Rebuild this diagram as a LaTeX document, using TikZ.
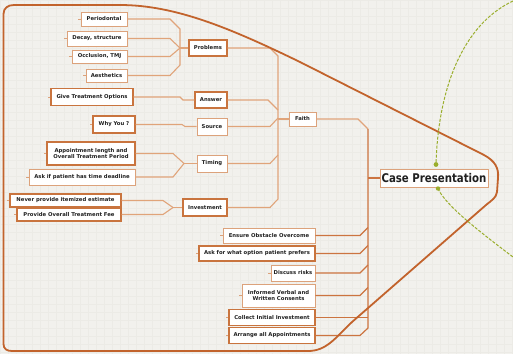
\documentclass[tikz,border=0pt]{standalone}
\usepackage{fontspec}
\setmainfont{DejaVu Sans}
\newfontfamily\titlefont[FakeStretch=0.85]{DejaVu Sans}

\definecolor{paper}{HTML}{F2F1ED}
\definecolor{gridline}{HTML}{ECEBE6}
\definecolor{boxlite}{HTML}{DCA27B}
\definecolor{boxdark}{HTML}{C9743E}
\definecolor{linklite}{HTML}{E0A47A}
\definecolor{linkdark}{HTML}{CC7440}
\definecolor{hull}{HTML}{C2632C}
\definecolor{olive}{HTML}{9AAE2C}
\definecolor{ink}{HTML}{202020}

\tikzset{
  leaf/.style={draw=boxlite, line width=0.9pt, fill=white, text=ink,
    font=\fontsize{5.3}{6.1}\selectfont\bfseries, inner sep=0pt, align=center},
  leafdark/.style={leaf, draw=boxdark, line width=1.2pt},
  central/.style={draw=boxlite, line width=0.9pt, fill=white!92!paper, text=ink,
    font=\titlefont\bfseries\fontsize{12}{14}\selectfont, inner sep=0pt},
  conn/.style={draw=linklite, line width=1.1pt},
  trunk/.style={draw=linkdark, line width=1.2pt},
  stub/.style={draw=boxlite, line width=0.8pt},
  hullline/.style={draw=hull, line width=1.8pt, line join=round},
  olivelink/.style={draw=olive, line width=1pt, dashed, dash pattern=on 3pt off 1.5pt},
}

\begin{document}
\begin{tikzpicture}[x=1pt,y=-1pt]
% paper and its faint grid
\fill[paper] (0,0) rectangle (513,354);
\useasboundingbox (0,0) rectangle (513,354);
\foreach \g in {0,8,...,512} \draw[gridline, line width=0.3pt] (\g,0) -- (\g,354);
\foreach \g in {0,8,...,352} \draw[gridline, line width=0.3pt] (0,\g) -- (513,\g);

% ---------- topics ----------
\node[leaf, minimum width=46, minimum height=14] (peri) at (104,19) {Periodontal};
\node[leaf, minimum width=60, minimum height=15] (decay) at (97,38.5) {Decay, structure};
\node[leaf, minimum width=55, minimum height=13] (occl) at (99.5,56.5) {Occlusion, TMJ};
\node[leaf, minimum width=41, minimum height=13] (aesth) at (106.5,75.5) {Aesthetics};
\node[leafdark, minimum width=38, minimum height=16] (probs) at (208,48) {Problems};

\node[leafdark, minimum width=82, minimum height=17] (give) at (92,97) {Give Treatment Options};
\node[leafdark, minimum width=32, minimum height=16] (answer) at (211,100) {Answer};

\node[leafdark, minimum width=42, minimum height=17] (why) at (114,124.5) {Why You ?};
\node[leaf, minimum width=30, minimum height=17] (source) at (212,126.5) {Source};

\node[leafdark, minimum width=88, minimum height=23] (appt) at (91,153.5) {Appointment length and\\Overall Treatment Period};
\node[leaf, minimum width=106, minimum height=16] (askdead) at (82,177) {Ask if patient has time deadline};
\node[leaf, minimum width=30, minimum height=17] (timing) at (212,163.5) {Timing};

\node[leafdark, minimum width=111, minimum height=13] (never) at (65.5,200.5) {Never provide itemized estimate};
\node[leafdark, minimum width=104, minimum height=13] (provide) at (69,214.5) {Provide Overall Treatment Fee};
\node[leafdark, minimum width=44, minimum height=17] (invest) at (205,207.5) {Investment};

\node[leaf, line width=1pt, minimum width=27, minimum height=14] (faith) at (302.5,119) {Faith};

\node[leaf, minimum width=92, minimum height=15] (ensure) at (269,235.5) {Ensure Obstacle Overcome};
\node[leafdark, minimum width=116, minimum height=15] (askpref) at (257,253.5) {Ask for what option patient prefers};
\node[leaf, minimum width=44, minimum height=16] (discuss) at (293,273) {Discuss risks};
\node[leaf, minimum width=73, minimum height=23] (informed) at (278.5,295.5) {Informed Verbal and\\Written Consents};
\node[leafdark, minimum width=86, minimum height=16] (collect) at (272,317.5) {Collect Initial Investment};
\node[leafdark, minimum width=86, minimum height=16] (arrange) at (272,335.5) {Arrange all Appointments};

\node[central, minimum width=108, minimum height=18] (cp) at (434,178) {Case Presentation};

% small stubs on the left of the end topics
\foreach \n in {peri,decay,occl,aesth,give,why,appt,askdead,never,provide,ensure,askpref,discuss,informed,collect,arrange}
  \draw[stub] (\n.west) -- ++(-2.5,0);

% ---------- joints ----------
\coordinate (pj) at (180,48);
\coordinate (tj) at (184,163.5);
\coordinate (ij) at (173,207.5);
\coordinate (fj) at (278,119);
\coordinate (cj) at (368,178);
\coordinate (uptop) at (436,164.5);
\coordinate (upbot) at (438,188.5);
\coordinate (ofs1) at (513,1);
\coordinate (ofs2) at (513,257);

% ---------- connectors into the sub-topics ----------
\draw[conn] (peri.east) -- (170,19) -- (180,29) -- (180,65) -- (170,75.5) -- (aesth.east);
\draw[conn] (decay.east) -- (170,38.5) -- (pj);
\draw[conn] (occl.east) -- (170,56.5) -- (pj);
\draw[conn] (pj) -- (probs.west);

\draw[conn] (give.east) -- (180,97) -- (183,100) -- (answer.west);
\draw[conn] (why.east) -- (182,124.5) -- (185,126.5) -- (source.west);

\draw[conn] (appt.east) -- (173,153.5) -- (tj);
\draw[conn] (askdead.east) -- (173,177) -- (tj);
\draw[conn] (tj) -- (timing.west);

\draw[conn] (never.east) -- (163,200.5) -- (ij);
\draw[conn] (provide.east) -- (163,214.5) -- (ij);
\draw[conn] (ij) -- (invest.west);

% ---------- sub-topics into Faith ----------
\draw[conn] (probs.east) -- (270,48) -- (278,56) -- (278,199) -- (270,207.5) -- (invest.east);
\draw[conn] (answer.east) -- (268,100) -- (278,110);
\draw[conn] (source.east) -- (270,126.5) -- (278,118);
\draw[conn] (timing.east) -- (270,163.5) -- (278,155);
\draw[conn] (faith.west) -- (fj);

% ---------- main trunk to the central topic ----------
\draw[conn] (faith.east) -- (358,119) -- (368,129);
\draw[trunk] (368,129) -- (368,328) -- (360,335.5) -- (arrange.east);
\draw[trunk] (cp.west) -- (cj);
\draw[trunk] (ensure.east) -- (360,235.5) -- (368,227.5);
\draw[trunk] (askpref.east) -- (360,253.5) -- (368,245.5);
\draw[trunk] (discuss.east) -- (360,273) -- (368,265);
\draw[trunk] (informed.east) -- (360,295.5) -- (368,287.5);
\draw[trunk] (collect.east) -- (368,317.5);

% ---------- boundary around the topic group ----------
\draw[hullline] (3.5,344) -- (3.5,14) .. controls (3.5,8) and (8,5) .. (14,5) -- (120,5)
  .. controls (175,5) and (230,28) .. (300,62) -- (484,155)
  .. controls (495,161) and (499,168) .. (498,178) -- (497,192)
  .. controls (496,198) and (492,200) .. (486,205) -- (352,322)
  .. controls (336,337) and (327,351) .. (308,351) -- (12,351)
  .. controls (7,351) and (3.5,349) .. (3.5,344);

% ---------- relationship links ----------
\draw[olivelink] (ofs1) .. controls (462,25) and (438,90) .. (uptop);
\draw[olivelink] (upbot) .. controls (445,205) and (480,232) .. (ofs2);
\fill[olive] (uptop) circle (2.4);
\fill[olive] (upbot) circle (2.2);
\end{tikzpicture}
\end{document}
